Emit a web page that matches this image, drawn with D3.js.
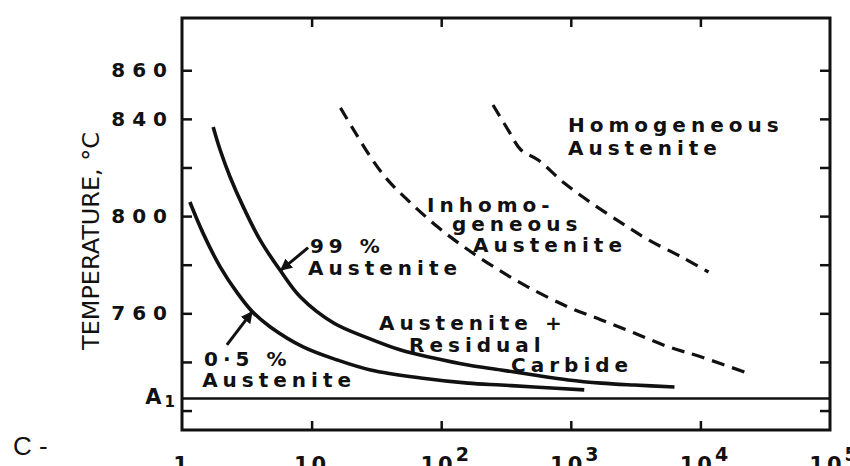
<!DOCTYPE html>
<html>
<head>
<meta charset="utf-8">
<script src="https://cdn.jsdelivr.net/npm/d3@7"></script>
<style>
  body { margin: 0; background: #fff; }
  text { font-family: "DejaVu Sans", sans-serif; font-weight: bold; fill: #111; }
</style>
</head>
<body>
<svg id="chart" width="850" height="466"></svg>
<script>
// axis values
const timeTicks = [10, 100, 1000, 10000];
const timeLabels = [1, 10, 100, 1000, 10000, 100000];
const tempTicks = [720, 740, 760, 780, 800, 820, 840, 860];
const tempLabels = [760, 800, 840, 860];
const a1Temp = 725;

// curves: [time (s), temperature (C)]
const start05 = [[1.15, 805.8], [1.45, 793.1], [1.97, 779.1], [2.67, 768.4], [3.5, 760.6],
  [4.8, 754.4], [8.6, 746.2], [15.8, 740.8], [28.5, 736.7], [69.5, 733.4], [161, 731.3],
  [289, 730.5], [521, 729.7], [1270, 728.5]];
const end99 = [[1.74, 836.7], [1.97, 827.2], [2.35, 816.1], [2.97, 803.8], [4.0, 790.2],
  [5.7, 777.8], [8.2, 766.7], [14.8, 756.0], [27, 749.9], [48.7, 744.9], [87.6, 741.6],
  [161, 738.7], [289, 736.7], [521, 734.6], [955, 732.6], [1720, 731.3], [3090, 730.5],
  [6310, 729.7]];
const carbideGone = [[16.7, 844.5], [21.1, 835.5], [28.5, 824.3], [38.6, 814.9], [58.2, 805.4],
  [94.2, 795.5], [150, 787.3], [255, 779.1], [468, 770.8], [955, 762.6], [1720, 757.3],
  [3090, 751.9], [5680, 746.2], [10200, 742.0], [22800, 735.5]];
const homogeneous = [[251, 845.7], [328, 835.5], [413, 827.2], [560, 823.1], [889, 813.6],
  [1440, 805.4], [2455, 797.2], [3980, 790.2], [7150, 783.2], [11560, 777.0]];

// region labels, placed in data coordinates
const notes = [
  {text: "Homogeneous", t: 951, T: 834.6},
  {text: "Austenite", t: 951, T: 825.2},
  {text: "Inhomo-", t: 77.7, T: 801.7},
  {text: "geneous", t: 121, T: 793.9},
  {text: "Austenite", t: 176, T: 785.3},
  {text: "99 %", t: 9.7, T: 784.8},
  {text: "Austenite", t: 9.4, T: 775.8},
  {text: "Austenite +", t: 33.1, T: 753.2},
  {text: "Residual", t: 56.5, T: 744.1},
  {text: "Carbide", t: 346, T: 735.9},
  {text: "0·5 %", t: 1.48, T: 738.3},
  {text: "Austenite", t: 1.43, T: 729.7}
];
const arrows = [
  {from: [9.4, 787.0], to: [5.8, 777.8]},
  {from: [2.22, 747.0], to: [3.47, 760.6]}
];

const svg = d3.select("#chart");
const m = {left: 182, right: 830, top: 18, bottom: 430};

const x = d3.scaleLog().domain([1, 1e5]).range([m.left, m.right]);
const y = d3.scaleLinear().domain([712, 881.5]).range([m.bottom, m.top]);

// frame
svg.append("rect")
  .attr("x", m.left).attr("y", m.top)
  .attr("width", m.right - m.left).attr("height", m.bottom - m.top)
  .attr("fill", "none").attr("stroke", "#111").attr("stroke-width", 3);

// axes, ticks pointing inward
const axL = svg.append("g").attr("transform", `translate(${m.left},0)`)
  .call(d3.axisLeft(y).tickValues(tempTicks).tickSize(-10).tickPadding(8)
    .tickFormat(d => tempLabels.includes(d) ? d : ""));
const axR = svg.append("g").attr("transform", `translate(${m.right},0)`)
  .call(d3.axisRight(y).tickValues(tempTicks).tickSize(-10).tickFormat(""));
const axB = svg.append("g").attr("transform", `translate(0,${m.bottom})`)
  .call(d3.axisBottom(x).tickValues(timeTicks).tickSize(-9).tickFormat(""));
const axT = svg.append("g").attr("transform", `translate(0,${m.top})`)
  .call(d3.axisTop(x).tickValues(timeTicks).tickSize(-9).tickFormat(""));

[axL, axR, axB, axT].forEach(g => {
  g.select(".domain").remove();
  g.selectAll(".tick line").attr("stroke", "#111").attr("stroke-width", 2.5);
});
axL.selectAll(".tick text")
  .style("font-family", "DejaVu Sans").style("font-weight", "bold")
  .style("font-size", "20px").style("letter-spacing", "7px").attr("fill", "#111");

// A1 line
svg.append("line")
  .attr("x1", m.left).attr("x2", m.right)
  .attr("y1", y(a1Temp)).attr("y2", y(a1Temp))
  .attr("stroke", "#111").attr("stroke-width", 2.5);
const a1 = svg.append("text")
  .attr("x", m.left - 4).attr("y", y(a1Temp) + 6)
  .attr("text-anchor", "end").style("font-size", "21px").style("letter-spacing", "3px");
a1.append("tspan").text("A");
a1.append("tspan").attr("dy", 3).style("font-size", "15px").text("1");

// bottom decade labels (cut by the page edge like the scan)
const xl = svg.selectAll("text.xlab")
  .data(timeLabels)
  .join("text").attr("class", "xlab")
  .attr("x", d => x(d) + (d >= 100 ? 5 : 0)).attr("y", 472)
  .attr("text-anchor", "middle")
  .style("font-size", "21px").style("letter-spacing", "3px");
xl.each(function(d) {
  const p = Math.round(Math.log10(d));
  const t = d3.select(this);
  if (p <= 1) { t.text(d); return; }
  t.append("tspan").text("10");
  t.append("tspan").attr("dy", -11).style("font-size", "19px").text(p);
});

// axis title
svg.append("text")
  .attr("transform", `translate(99,241) rotate(-90)`)
  .attr("text-anchor", "middle")
  .attr("textLength", 218).attr("lengthAdjust", "spacingAndGlyphs")
  .style("font-weight", "normal").style("font-size", "23px")
  .text("TEMPERATURE, °C");

// curves
const line = d3.line().x(d => x(d[0])).y(d => y(d[1])).curve(d3.curveCatmullRom);
const curves = [
  {pts: start05, dash: null},
  {pts: end99, dash: null},
  {pts: carbideGone, dash: "13,8"},
  {pts: homogeneous, dash: "13,8"}
];
svg.selectAll("path.curve")
  .data(curves)
  .join("path").attr("class", "curve")
  .attr("d", d => line(d.pts))
  .attr("fill", "none").attr("stroke", "#111")
  .attr("stroke-width", d => d.dash ? 3.2 : 3.6)
  .attr("stroke-dasharray", d => d.dash);

// arrows
svg.append("defs").append("marker")
  .attr("id", "head").attr("viewBox", "0 0 10 10")
  .attr("refX", 9).attr("refY", 5)
  .attr("markerWidth", 4).attr("markerHeight", 4)
  .attr("orient", "auto")
  .append("path").attr("d", "M0,0L10,5L0,10z").attr("fill", "#111");
svg.selectAll("line.arrow")
  .data(arrows)
  .join("line").attr("class", "arrow")
  .attr("x1", d => x(d.from[0])).attr("y1", d => y(d.from[1]))
  .attr("x2", d => x(d.to[0])).attr("y2", d => y(d.to[1]))
  .attr("stroke", "#111").attr("stroke-width", 3)
  .attr("marker-end", "url(#head)");

// region labels
svg.selectAll("text.note")
  .data(notes)
  .join("text").attr("class", "note")
  .attr("x", d => x(d.t)).attr("y", d => y(d.T))
  .style("font-size", "20px").style("letter-spacing", "5px")
  .text(d => d.text);

// figure tag
svg.append("text")
  .attr("x", 13).attr("y", 455)
  .style("font-family", "Liberation Sans, Arial, sans-serif")
  .style("font-weight", "normal").style("font-size", "26px")
  .attr("fill", "#222")
  .text("C -");
</script>
</body>
</html>
